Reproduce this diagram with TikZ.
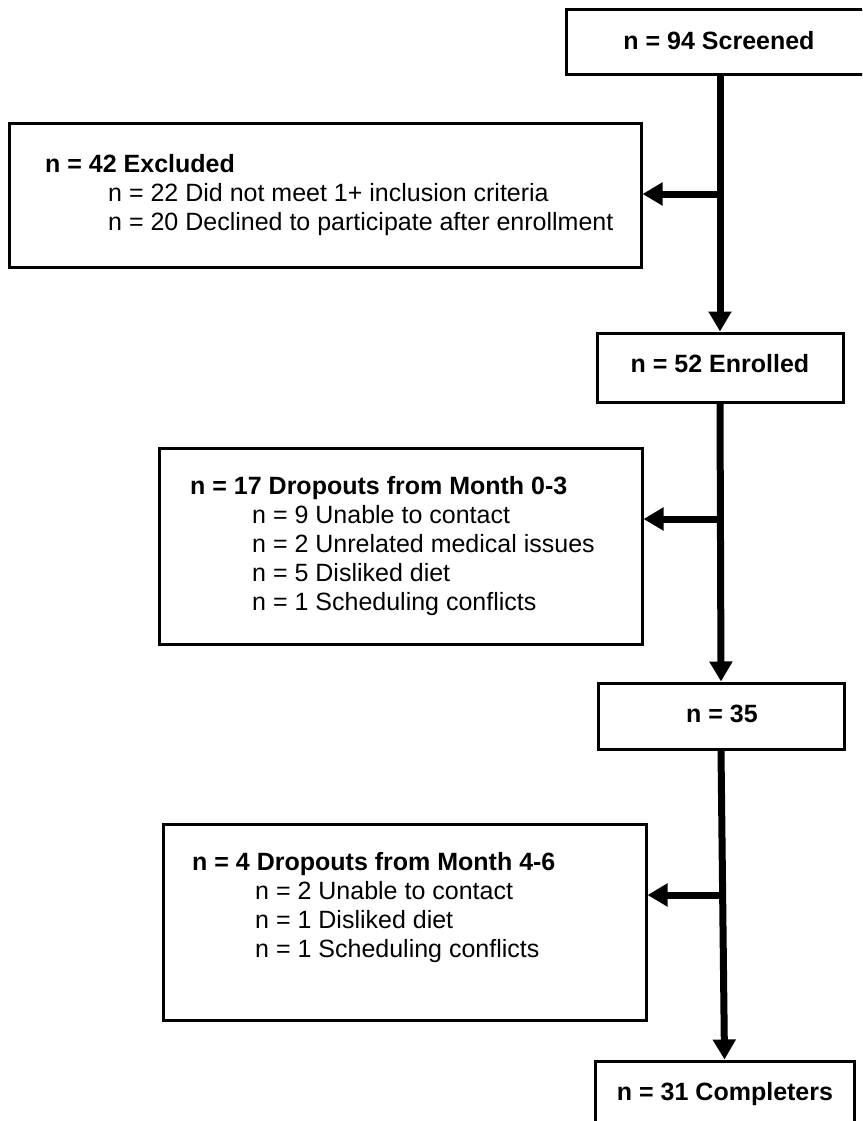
\documentclass[tikz,border=0pt]{standalone}
\usepackage{fontspec}
\setmainfont{Liberation Sans}
\usetikzlibrary{arrows.meta}
\begin{document}
\begin{tikzpicture}[x=1pt,y=-1pt,
  boxn/.style={draw=black, line width=3pt, inner sep=0pt, fill=none},
  bt/.style={font=\fontsize{25}{29}\selectfont\bfseries, anchor=base, inner sep=0pt},
  btl/.style={font=\fontsize{25}{29}\selectfont\bfseries, anchor=base west, inner sep=0pt},
  lt/.style={font=\fontsize{25}{29}\selectfont, anchor=base west, inner sep=0pt},
  flowline/.style={line width=7pt, -{Triangle[length=20pt,width=22pt]}},
  flowplain/.style={line width=7pt}
]
\clip (0,0) rectangle (862,1121);
\fill[white] (0,0) rectangle (862,1121);

% boxes
\node[boxn, minimum width=306pt, minimum height=65pt] (screened) at (719,42.5) {};
\node[boxn, minimum width=632pt, minimum height=143pt] (excluded) at (325,195.5) {};
\node[boxn, minimum width=246pt, minimum height=69pt] (enrolled) at (720,367.5) {};
\node[boxn, minimum width=483pt, minimum height=196pt] (drop1) at (400.5,546) {};
\node[boxn, minimum width=246pt, minimum height=66pt] (n35) at (721,716) {};
\node[boxn, minimum width=483pt, minimum height=196pt] (drop2) at (404.5,922) {};
\node[boxn, minimum width=259pt, minimum height=65pt] (completers) at (724.5,1093.5) {};

% main box texts
\node[bt] (tscreened) at (719,50) {n = 94 Screened};
\node[bt] (tenrolled) at (720,372) {n = 52 Enrolled};
\node[bt] (tn35) at (722,722) {n = 35};
\node[bt] (tcompleters) at (725,1100) {n = 31 Completers};

% excluded texts
\node[btl] (ex0) at (45,172) {n = 42 Excluded};
\node[lt] (ex1) at (108,201) {n = 22 Did not meet 1+ inclusion criteria};
\node[lt] (ex2) at (108,230) {n = 20 Declined to participate after enrollment};

% dropouts 0-3
\node[btl] (da0) at (190,494) {n = 17 Dropouts from Month 0-3};
\node[lt] (da1) at (252,523) {n = 9 Unable to contact};
\node[lt] (da2) at (252,552) {n = 2 Unrelated medical issues};
\node[lt] (da3) at (252,581) {n = 5 Disliked diet};
\node[lt] (da4) at (252,610) {n = 1 Scheduling conflicts};

% dropouts 4-6
\node[btl] (db0) at (192,870) {n = 4 Dropouts from Month 4-6};
\node[lt] (db1) at (255,899) {n = 2 Unable to contact};
\node[lt] (db2) at (255,928) {n = 1 Disliked diet};
\node[lt] (db3) at (255,957) {n = 1 Scheduling conflicts};

% connectors
\coordinate (s0) at (720,76);
\draw[flowline] (s0) -- (enrolled.north);
\coordinate (b1) at (720,194);
\draw[flowline] (b1) -- (b1 -| excluded.east);

\draw[flowline] (enrolled.south) -- (n35.north);
\coordinate (b2) at (721,519);
\draw[flowline] (b2) -- (b2 -| drop1.east);

\draw[flowline] (n35.south) -- (completers.north);
\coordinate (b3) at (723,895);
\draw[flowline] (b3) -- (b3 -| drop2.east);
\end{tikzpicture}
\end{document}
